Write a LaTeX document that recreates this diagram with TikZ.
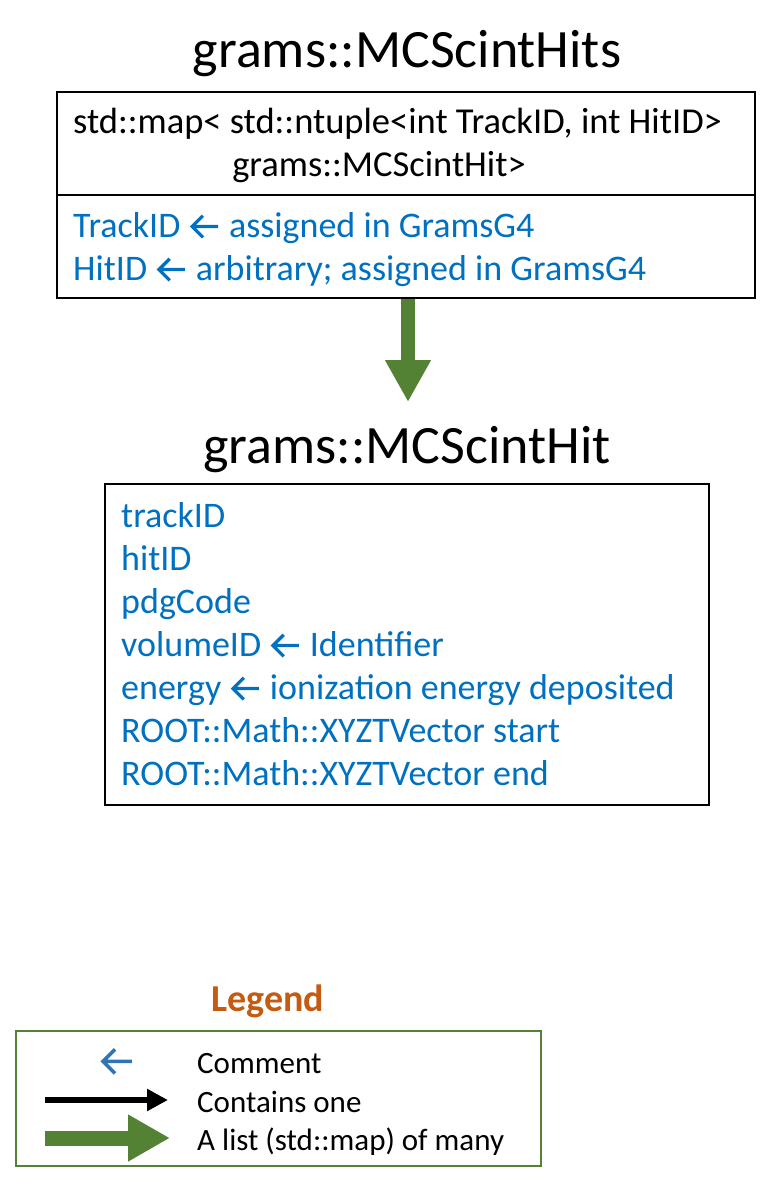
\documentclass[tikz,border=0pt]{standalone}
\usepackage{fontspec}
\setmainfont{Carlito}
\usetikzlibrary{arrows.meta}
\usetikzlibrary{positioning}
\definecolor{cmtblue}{HTML}{0070C0}
\definecolor{legblue}{HTML}{2E75B6}
\definecolor{listgreen}{HTML}{548235}
\definecolor{legorange}{HTML}{C55A11}
\newcommand{\cmtarrow}{\tikz[baseline={(0,-0.29em)},x=1em,y=1em]{
    \path (0,0) (0.9,0);
    \draw[line width=0.09em] (0.82,0) -- (0.1,0) (0.4,0.3) -- (0.1,0) -- (0.4,-0.3);}}

\begin{document}
\begin{tikzpicture}[x=1pt,y=-1pt,
    classbox/.style={draw=black,line width=1.5pt,inner sep=0pt},
    titletext/.style={font=\fontsize{54}{60}\selectfont,anchor=base,inner sep=0pt},
    typetext/.style={font=\fontsize{36.5}{42}\selectfont,anchor=base,inner sep=0pt},
    memtext/.style={font=\fontsize{36}{42}\selectfont,text=cmtblue,anchor=base west,inner sep=0pt},
    legtext/.style={font=\fontsize{31}{36}\selectfont,anchor=base west,inner sep=0pt},
    listarrow/.style={draw=listgreen,line width=14pt,-{Triangle[width=43pt,length=42pt]}},
    onearrow/.style={draw=black,line width=6pt,-{Triangle[width=21pt,length=21pt]}}]
    \useasboundingbox (0,0) rectangle (783,1191);

    % grams::MCScintHits
    \node[titletext] (hitstitle) at (407,67) {grams::MCScintHits};
    \node[classbox,minimum width=698pt,minimum height=206pt] (hits) at (406,195) {};
    \coordinate (hitsdiv) at (0,195);
    \draw[classbox] (hits.west |- hitsdiv) -- (hits.east |- hitsdiv);
    \node[typetext,anchor=base west] (maptype) at (73,133) {std::map< std::ntuple<int TrackID, int HitID>};
    \node[typetext] (mapvalue) at (379,176) {grams::MCScintHit>};
    \node[memtext] (trackid) at (73,237) {TrackID \cmtarrow{} assigned in GramsG4};
    \node[memtext] (hitid) at (73,280) {HitID \cmtarrow{} arbitrary; assigned in GramsG4};

    \coordinate (listtip) at (408,402);
    \draw[listarrow] (hits.south -| listtip) -- (listtip);

    % grams::MCScintHit
    \node[titletext] (hittitle) at (407,463) {grams::MCScintHit};
    \node[classbox,minimum width=604pt,minimum height=321pt] (hit) at (407,644.5) {};
    \node[memtext] (m1) at (121,527) {trackID};
    \node[memtext] (m2) at (121,570) {hitID};
    \node[memtext] (m3) at (121,613) {pdgCode};
    \node[memtext] (m4) at (121,656) {volumeID \cmtarrow{} Identifier};
    \node[memtext] (m5) at (121,699) {energy \cmtarrow{} ionization energy deposited};
    \node[memtext] (m6) at (121,742) {ROOT::Math::XYZTVector start};
    \node[memtext] (m7) at (121,785) {ROOT::Math::XYZTVector end};

    % legend
    \node[font=\bfseries\fontsize{38}{44}\selectfont,text=legorange,anchor=base,inner sep=0pt] (legtitle) at (268,1011) {Legend};
    \node[draw=listgreen,line width=1.2pt,minimum width=525pt,minimum height=135pt,inner sep=0pt] (legend) at (278.5,1098.5) {};
    \node[text=legblue,font=\fontsize{40}{46}\selectfont,anchor=base,inner sep=0pt] (legcmt) at (117,1073) {\cmtarrow};
    \node[legtext] (legcmttext) at (197,1073) {Comment};
    \coordinate (onestart) at (45,1100);
    \coordinate (oneend) at (168,1100);
    \draw[onearrow] (onestart) -- (oneend);
    \node[legtext] (legonetext) at (197,1112) {Contains one};
    \coordinate (liststart) at (45,1138);
    \coordinate (listend) at (170,1138);
    \draw[listarrow,line width=15pt,-{Triangle[width=44pt,length=42pt]}] (liststart) -- (listend);
    \node[legtext] (leglisttext) at (197,1150) {A list (std::map) of many};
\end{tikzpicture}
\end{document}
